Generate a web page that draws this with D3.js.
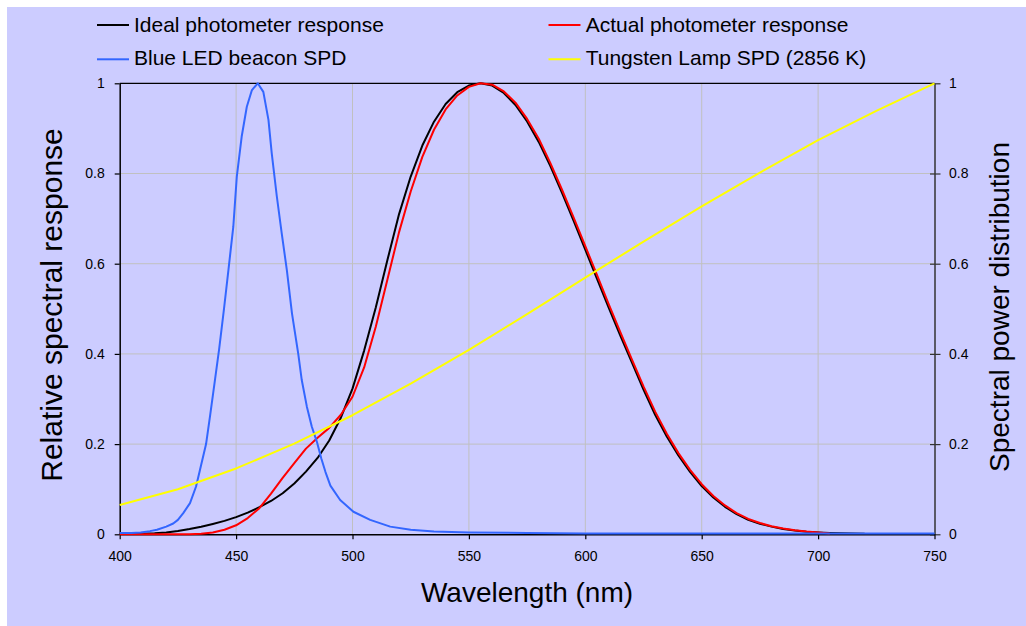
<!DOCTYPE html>
<html>
<head>
<meta charset="utf-8">
<script src="https://cdn.jsdelivr.net/npm/d3@7"></script>
<style>
  html, body { margin: 0; padding: 0; background: #fff; }
  svg { display: block; font-family: "Liberation Sans", Arial, sans-serif; }
</style>
</head>
<body>
<svg id="chart" width="1026" height="626"></svg>
<script>
// ---------- data ----------
const idealWl = [400,405,410,415,420,425,430,435,440,445,450,455,460,465,470,475,480,485,490,495,
  500,505,510,515,520,525,530,535,540,545,550,555,560,565,570,575,580,585,590,595,
  600,605,610,615,620,625,630,635,640,645,650,655,660,665,670,675,680,685,690,695,
  700,705,710,715,720];
const idealResp = [0.0004,0.0006,0.0012,0.0022,0.004,0.0073,0.0116,0.0168,0.023,0.0298,
  0.038,0.048,0.06,0.0739,0.091,0.1126,0.139,0.1693,0.208,0.2586,
  0.323,0.4073,0.503,0.6082,0.71,0.7932,0.862,0.9149,0.954,0.9803,
  0.995,1.0,0.995,0.9786,0.952,0.9154,0.87,0.8163,0.757,0.6949,
  0.631,0.5668,0.503,0.4412,0.381,0.321,0.265,0.217,0.175,0.1382,
  0.107,0.0816,0.061,0.0446,0.032,0.0232,0.017,0.0119,0.0082,0.0057,
  0.0041,0.0029,0.0021,0.0015,0.001];

const actualWl = [400,405,410,415,420,425,430,435,440,445,450,455,460,465,470,475,480,485,490,495,
  500,505,510,515,520,525,530,535,540,545,550,555,560,565,570,575,580,585,590,595,
  600,605,610,615,620,625,630,635,640,645,650,655,660,665,670,675,680,685,690,695,
  700,705];
const actualResp = [0,0,0,0,0,0,0,0.001,0.004,0.01,
  0.02,0.036,0.058,0.09,0.125,0.158,0.19,0.214,0.236,0.265,
  0.305,0.37,0.46,0.565,0.67,0.76,0.837,0.897,0.942,0.973,
  0.992,1.0,0.997,0.982,0.957,0.921,0.877,0.823,0.764,0.702,
  0.639,0.575,0.511,0.449,0.388,0.328,0.272,0.223,0.18,0.143,
  0.111,0.085,0.064,0.047,0.034,0.025,0.018,0.013,0.009,0.006,
  0.004,0.002];

const blueWl = [400,405,409,413,416,420,423,425,427.3,430.2,432.8,434.5,437.1,438.8,441,442.7,444.8,
  446.7,448.8,450.3,452.4,454.6,456.8,459.3,461.7,463.9,465.3,467.5,469.6,471.8,474,476.7,478.2,
  480.4,482.5,484.7,486.6,488.4,490.5,494.7,500.4,507.6,516.2,525,535,550,575,600,650,700,750];
const blueSpd = [0.003,0.003,0.004,0.007,0.01,0.017,0.024,0.032,0.047,0.069,0.106,0.143,0.2,0.262,0.345,0.41,0.5,
  0.586,0.682,0.793,0.882,0.948,0.985,1.0,0.981,0.919,0.845,0.749,0.667,0.586,0.49,0.4,0.342,
  0.283,0.239,0.205,0.168,0.138,0.108,0.076,0.05,0.032,0.017,0.01,0.006,0.004,0.003,0.002,0.002,0.002,0.002];

const tungWl = [400,425,450,475,500,525,550,575,600,625,650,675,700,725,750];
const tungSpd = [0.065,0.100,0.146,0.201,0.264,0.334,0.409,0.488,0.569,0.649,0.727,0.802,0.874,0.939,1.0];

const xTicks = [400,450,500,550,600,650,700,750];
const yTicks = [0,0.2,0.4,0.6,0.8,1];
const yTickLabels = ["0","0.2","0.4","0.6","0.8","1"];

const seriesNames = ["Ideal photometer response","Actual photometer response","Blue LED beacon SPD","Tungsten Lamp SPD (2856 K)"];
const seriesColors = ["#000000","#ff0000","#3366ff","#ffff00"];

// ---------- chart ----------
const svg = d3.select("#chart");
svg.append("rect").attr("x",0).attr("y",0).attr("width",1026).attr("height",626).attr("fill","#ffffff");
svg.append("rect").attr("x",7).attr("y",7).attr("width",1019).attr("height",619).attr("fill","#ccccff");

const x = d3.scaleLinear().domain([400,750]).range([119.7,934.5]);
const y = d3.scaleLinear().domain([0,1]).range([534.3,83.3]);
const y2 = d3.scaleLinear().domain([0,1]).range([534.3,83.3]);

// gridlines
const grid = svg.append("g");
grid.selectAll("line.v").data(xTicks.filter(d => d > 400 && d < 750)).enter().append("line")
  .attr("x1", d => x(d)).attr("x2", d => x(d)).attr("y1", y(0)).attr("y2", y(1))
  .attr("stroke","#c0c0c0").attr("stroke-width",1);
grid.selectAll("line.h").data(yTicks.filter(d => d > 0 && d < 1)).enter().append("line")
  .attr("y1", d => y(d)).attr("y2", d => y(d)).attr("x1", x(400)).attr("x2", x(750))
  .attr("stroke","#c0c0c0").attr("stroke-width",1);

// top border
svg.append("line").attr("x1",x(400)).attr("x2",x(750)).attr("y1",y(1)).attr("y2",y(1))
  .attr("stroke","#000").attr("stroke-width",1.2);

const fmt = d => yTickLabels[yTicks.indexOf(d)];

// left axis
const gL = svg.append("g").attr("transform",`translate(${x(400)},0)`)
  .call(d3.axisLeft(y).tickValues(yTicks).tickFormat(fmt).tickSize(5).tickSizeOuter(0).tickPadding(10));
// right axis
const gR = svg.append("g").attr("transform",`translate(${x(750)},0)`)
  .call(d3.axisRight(y2).tickValues(yTicks).tickFormat(fmt).tickSize(6).tickSizeOuter(0).tickPadding(8.5));
gR.selectAll(".tick line").attr("x1",-4.5);
// bottom axis
const gB = svg.append("g").attr("transform",`translate(0,${y(0)})`)
  .call(d3.axisBottom(x).tickValues(xTicks).tickFormat(d3.format("d")).tickSize(5).tickSizeOuter(0).tickPadding(11.4));

[gL,gB].forEach(g => {
  g.select(".domain").attr("stroke","#000").attr("stroke-width",1.5);
  g.selectAll(".tick line").attr("stroke","#000").attr("stroke-width",1.2);
});
gR.select(".domain").attr("stroke","#333").attr("stroke-width",1.5);
gR.selectAll(".tick line").attr("stroke","#333").attr("stroke-width",1.2);
[gL,gR,gB].forEach(g => g.selectAll("text").attr("font-size",14)
  .attr("font-family","'Liberation Sans', Arial, sans-serif").attr("fill","#000"));

// lines
const mk = (wl, vals) => wl.map((w,i) => [w, vals[i]]);
const lineGen = sc => d3.line().x(d => x(d[0])).y(d => sc(d[1]));
const plotted = [
  {data: mk(idealWl, idealResp), sc: y, color: seriesColors[0]},
  {data: mk(actualWl, actualResp), sc: y, color: seriesColors[1]},
  {data: mk(blueWl, blueSpd), sc: y, color: seriesColors[2]},
  {data: mk(tungWl, tungSpd), sc: y2, color: seriesColors[3]}
];
plotted.forEach(s => {
  svg.append("path").datum(s.data).attr("d", lineGen(s.sc))
    .attr("fill","none").attr("stroke", s.color).attr("stroke-width",2)
    .attr("stroke-linejoin","round");
});

// legend
const legendPos = [
  {lx: 97, tx: 134, ly: 25, ty: 32.3},
  {lx: 548.5, tx: 585.7, ly: 25, ty: 32.3},
  {lx: 97, tx: 134, ly: 59.3, ty: 65},
  {lx: 548.5, tx: 585.7, ly: 59.3, ty: 65}
];
const lg = svg.append("g");
seriesNames.forEach((name,i) => {
  const p = legendPos[i];
  lg.append("line").attr("x1",p.lx).attr("x2",p.lx+32).attr("y1",p.ly).attr("y2",p.ly)
    .attr("stroke",seriesColors[i]).attr("stroke-width",2);
  lg.append("text").attr("x",p.tx).attr("y",p.ty).attr("font-size",21).attr("fill","#000").text(name);
});

// axis titles
svg.append("text").attr("transform","translate(61.7,305) rotate(-90)")
  .attr("text-anchor","middle").attr("font-size",30).text("Relative spectral response");
svg.append("text").attr("transform","translate(1009,307) rotate(-90)")
  .attr("text-anchor","middle").attr("font-size",28).text("Spectral power distribution");
svg.append("text").attr("x",527).attr("y",601.7)
  .attr("text-anchor","middle").attr("font-size",28).text("Wavelength (nm)");
</script>
</body>
</html>
